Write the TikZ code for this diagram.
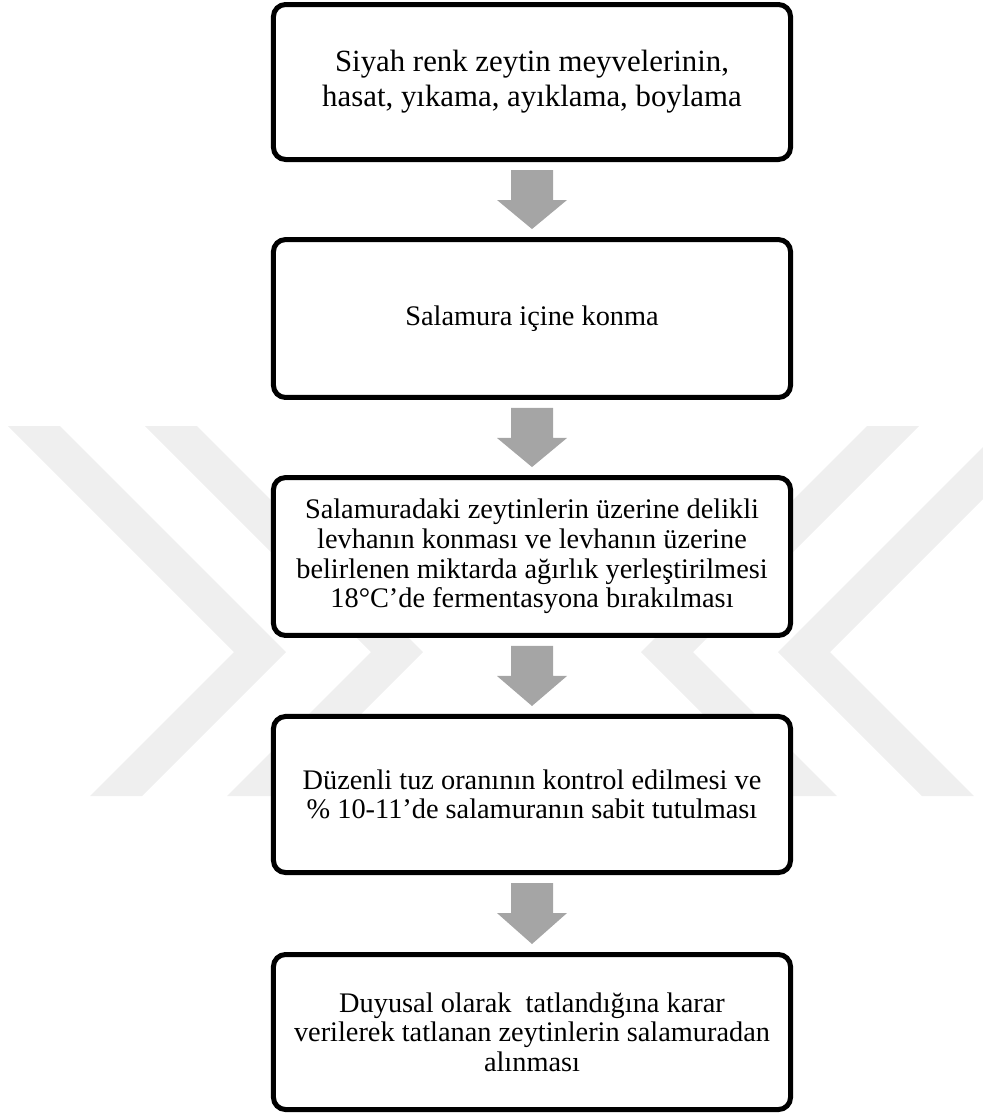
\documentclass[tikz,border=0pt]{standalone}
\usepackage{fontspec}
\setmainfont{Liberation Serif}
\usetikzlibrary{calc}
\definecolor{arrowgray}{HTML}{A5A5A5}
\definecolor{markgray}{HTML}{EFEFEF}

\begin{document}
\begin{tikzpicture}[x=0.48pt,y=-0.48pt,
    stepbox/.style={draw,line width=2.4pt,rounded corners=5.8pt,fill=white,
      minimum width=248.2pt,inner sep=0pt,align=center,
      font=\fontsize{13.6}{14.2}\selectfont},
    flowarrow/.style={fill=arrowgray},
    wmark/.style={fill=markgray}]
  \useasboundingbox (0,0) rectangle (983,1114);
  % faint watermark behind the boxes
  \begin{scope}
    \clip (0,0) rectangle (983,1114);
    \foreach \d in {0,137}{
      \fill[wmark] ({8+\d},426) -- ({60+\d},426) -- ({286+\d},652) -- ({142+\d},796)
        -- ({90+\d},796) -- ({234+\d},652) -- cycle;
      \fill[wmark] ({1056-\d},426) -- ({1004-\d},426) -- ({778-\d},652) -- ({922-\d},796)
        -- ({974-\d},796) -- ({830-\d},652) -- cycle;
    }
  \end{scope}
  \node[stepbox,minimum height=74.4pt,font=\fontsize{14.8}{16.8}\selectfont] (s1) at (532,82)
    {Siyah renk zeytin meyvelerinin,\\hasat, yıkama, ayıklama, boylama};
  \node[stepbox,minimum height=75.8pt] (s2) at (532,318.5) {Salamura içine konma};
  \node[stepbox,minimum height=75.8pt] (s3) at (532,556.5)
    {Salamuradaki zeytinlerin üzerine delikli\\levhanın konması ve levhanın üzerine\\
     belirlenen miktarda ağırlık yerleştirilmesi\\18°C’de fermentasyona bırakılması};
  \node[stepbox,minimum height=74.9pt] (s4) at (532,794.5)
    {Düzenli tuz oranının kontrol edilmesi ve\\\% 10-11’de salamuranın sabit tutulması};
  \node[stepbox,minimum height=74.4pt] (s5) at (532,1032)
    {Duyusal olarak\ \ tatlandığına karar\\verilerek tatlanan zeytinlerin salamuradan\\alınması};
  \foreach \src/\dst in {s1/s2,s2/s3,s3/s4,s4/s5}
    \fill[flowarrow] ($(\src.south)+(-21,8)$) -- ($(\src.south)+(21,8)$) -- ($(\src.south)+(21,38)$)
      -- ($(\src.south)+(35,38)$) -- ($(\dst.north)+(0,-8)$) -- ($(\src.south)+(-35,38)$)
      -- ($(\src.south)+(-21,38)$) -- cycle;
\end{tikzpicture}
\end{document}
